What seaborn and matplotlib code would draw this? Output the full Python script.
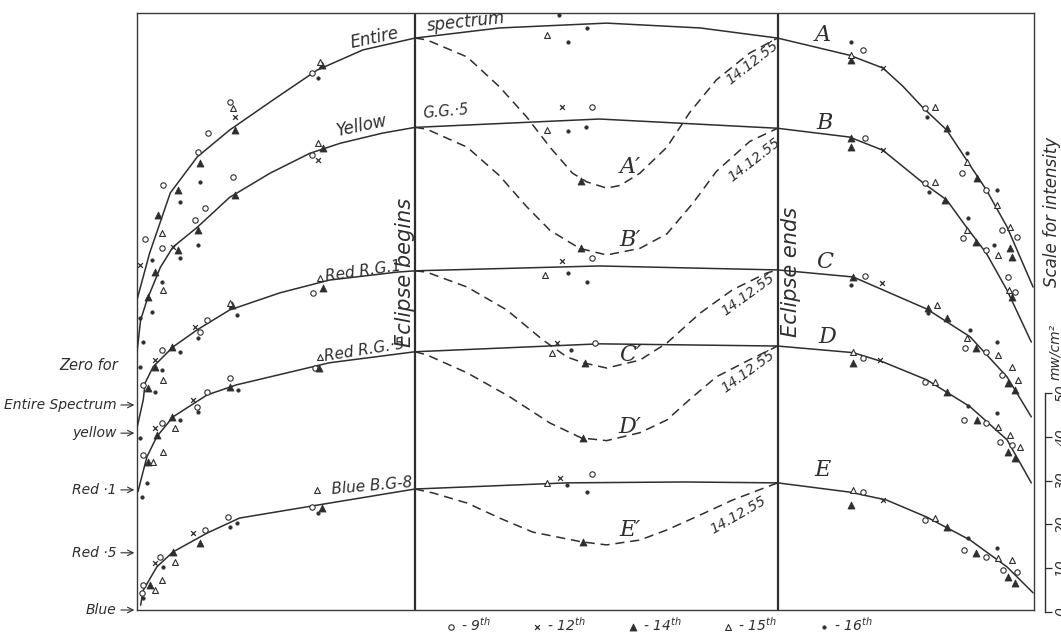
import matplotlib
matplotlib.use("Agg")
import matplotlib.pyplot as plt
import pandas as pd
import seaborn as sns

sns.set_theme(style="white")
plt.rcParams["font.family"] = ["DejaVu Sans"]
plt.rcParams["mathtext.fontset"] = "dejavusans"

INK = "#2e2e2e"

# ---------------- data (time in hours, intensity in mw/cm^2) ----------------
curve_names = ["A", "B", "C", "D", "E"]
zero_offset = {"A": 46.6, "B": 40.2, "C": 27.3, "D": 13.0, "E": 0.0}
eclipse_begin = 10.09
eclipse_end = 14.12

# normal-day curves
A_t = [7.00, 7.14, 7.37, 7.67, 8.03, 8.51, 9.00, 9.51, 10.09, 11.03, 12.22, 13.26, 14.12,
       14.92, 15.29, 15.51, 15.73, 16.00, 16.22, 16.44, 16.67, 16.96]
A_v = [23.9, 34.5, 48.2, 56.4, 62.5, 69.3, 76.1, 80.7, 83.4, 85.7, 86.8, 85.7, 83.4,
       79.5, 76.6, 72.5, 67.7, 62.5, 55.7, 48.9, 40.5, 26.8]
B_t = [7.00, 7.04, 7.11, 7.26, 7.40, 7.67, 8.03, 8.48, 8.92, 9.26, 9.73, 10.09, 12.14, 14.12,
       14.92, 15.29, 15.73, 16.00, 16.22, 16.44, 16.67, 16.94]
B_v = [18.4, 25.7, 30.2, 37.7, 42.3, 46.8, 53.6, 59.1, 63.6, 65.9, 68.2, 69.5, 71.4, 69.3,
       67.3, 64.3, 57.0, 53.0, 46.8, 40.9, 32.5, 20.7]
C_t = [7.00, 7.07, 7.09, 7.18, 7.40, 7.67, 8.03, 8.59, 9.14, 9.89, 10.09, 12.14, 14.12,
       14.96, 15.78, 16.26, 16.67, 16.94]
C_v = [14.1, 20.5, 24.3, 28.0, 32.5, 36.4, 40.9, 44.8, 47.7, 49.5, 49.8, 50.9, 50.0,
       48.4, 41.1, 34.8, 25.7, 16.6]
D_t = [7.01, 7.11, 7.22, 7.40, 7.78, 8.11, 9.14, 10.09, 12.14, 14.12, 14.96, 15.29, 15.78,
       16.26, 16.67, 16.94]
D_v = [13.9, 21.8, 26.4, 30.9, 35.9, 38.2, 43.2, 45.7, 47.5, 47.0, 45.5, 43.4, 39.3,
       33.2, 25.7, 15.9]
E_t = [7.04, 7.07, 7.22, 7.40, 7.78, 8.14, 9.14, 10.09, 11.78, 13.07, 14.12, 14.92, 15.33,
       15.78, 16.26, 16.67, 16.96]
E_v = [1.1, 4.5, 9.8, 13.2, 17.5, 20.9, 24.3, 27.5, 28.9, 29.1, 28.9, 26.8, 25.0,
       21.1, 15.9, 9.8, 3.9]

# eclipse-day curves (14.12.55)
A2_t = [10.09, 10.22, 10.67, 11.03, 11.33, 11.59, 11.84, 12.00, 12.22, 12.37, 12.59, 12.89,
        13.14, 13.44, 13.81, 14.12]
A2_v = [83.4, 83.0, 79.1, 72.3, 65.5, 58.6, 52.7, 50.7, 49.3, 49.9, 52.7, 58.6,
        66.4, 73.9, 80.0, 83.4]
B2_t = [10.09, 10.22, 10.67, 11.03, 11.33, 11.59, 11.92, 12.22, 12.59, 12.89, 13.18, 13.44,
        13.81, 14.12]
B2_v = [69.5, 69.1, 65.0, 58.5, 51.5, 46.1, 42.0, 40.5, 42.0, 45.3, 52.3, 59.5, 66.3, 69.3]
C2_t = [10.09, 10.22, 10.67, 11.11, 11.51, 11.78, 11.96, 12.22, 12.59, 12.89, 13.26, 13.62,
        14.00, 14.12]
C2_v = [49.8, 49.5, 46.1, 40.9, 34.1, 30.2, 28.9, 27.7, 29.5, 33.4, 40.2, 45.5, 49.3, 50.0]
D2_t = [10.09, 10.22, 10.67, 11.14, 11.59, 11.94, 12.22, 12.59, 12.89, 13.14, 13.44, 13.81, 14.12]
D2_v = [45.7, 45.0, 40.9, 35.5, 29.5, 26.1, 25.5, 27.3, 30.2, 34.8, 40.0, 43.9, 47.0]
E2_t = [10.09, 10.29, 10.67, 11.03, 11.40, 11.94, 12.22, 12.59, 12.89, 13.26, 13.62, 14.12]
E2_v = [27.5, 26.6, 24.3, 20.9, 17.7, 15.5, 14.8, 15.9, 18.2, 21.6, 25.0, 28.9]

# observations: (time, intensity, day of December)
pts_A = [
    (9.03, 78.0, 15), (9.06, 77.3, 14), (8.94, 75.5, 9), (9.01, 74.3, 16),
    (8.03, 68.9, 9), (8.07, 67.5, 15), (8.09, 65.5, 12), (8.09, 62.5, 14),
    (7.79, 61.8, 9), (7.68, 57.5, 9), (7.70, 55.0, 14), (7.70, 50.7, 16),
    (7.29, 50.0, 9), (7.46, 48.9, 14), (7.48, 46.1, 16), (7.23, 43.2, 14),
    (7.28, 39.1, 15), (7.09, 37.7, 9), (7.28, 35.7, 9), (7.17, 33.0, 16), (7.03, 31.8, 12),
    (11.69, 88.6, 16), (11.56, 84.1, 15), (11.79, 82.5, 16), (12.00, 85.7, 16),
    (11.94, 50.9, 14),
    (14.94, 82.5, 16), (15.07, 80.7, 9), (14.94, 79.5, 15), (14.94, 78.4, 14), (15.29, 76.6, 12),
    (15.76, 67.5, 9), (15.87, 67.7, 15), (15.78, 65.5, 16), (16.00, 63.0, 14),
    (16.22, 57.3, 16), (16.22, 55.2, 15), (16.17, 52.7, 9), (16.34, 51.6, 14),
    (16.44, 48.9, 9), (16.56, 48.9, 16), (16.56, 45.5, 15),
    (16.61, 39.8, 9), (16.70, 40.5, 15), (16.78, 38.2, 9), (16.70, 35.7, 14), (16.73, 33.6, 14),
]
pts_B = [
    (9.01, 65.9, 15), (9.07, 64.8, 14), (8.94, 63.2, 9), (9.01, 62.0, 12),
    (8.07, 58.2, 9), (8.09, 54.1, 14), (7.76, 51.1, 9), (7.64, 48.4, 9),
    (7.68, 46.1, 14), (7.68, 42.7, 16), (7.40, 42.3, 12), (7.46, 41.6, 14),
    (7.48, 39.8, 16), (7.20, 36.6, 14), (7.28, 34.3, 16), (7.29, 32.5, 15),
    (7.12, 30.9, 14), (7.17, 27.5, 16), (7.03, 26.1, 16), (7.07, 20.7, 16), (7.03, 15.0, 16),
    (11.72, 74.1, 12), (12.06, 74.1, 9), (11.56, 68.9, 15), (11.79, 68.6, 16), (11.99, 69.5, 16),
    (11.94, 42.0, 14),
    (14.94, 67.0, 14), (14.94, 65.0, 14), (15.09, 67.0, 9), (15.29, 64.3, 12),
    (15.76, 56.8, 9), (15.87, 57.0, 15), (15.80, 54.8, 16), (15.98, 53.0, 14),
    (16.24, 48.9, 16), (16.23, 46.1, 15), (16.18, 44.3, 9), (16.33, 43.4, 14),
    (16.44, 41.6, 9), (16.53, 42.7, 16), (16.57, 40.5, 15),
    (16.68, 35.5, 9), (16.69, 32.5, 15), (16.73, 30.9, 14), (16.76, 32.0, 9),
]
pts_C = [
    (9.03, 48.2, 15), (8.96, 44.8, 9), (9.07, 45.9, 14),
    (8.03, 42.5, 15), (8.06, 42.0, 14), (8.11, 39.8, 16),
    (7.78, 38.6, 9), (7.64, 37.0, 12), (7.70, 35.9, 9), (7.68, 34.5, 16),
    (7.39, 32.5, 14), (7.28, 31.8, 9), (7.48, 31.4, 16), (7.20, 29.5, 12),
    (7.20, 28.0, 14), (7.28, 27.3, 16), (7.29, 25.0, 15), (7.07, 23.9, 9),
    (7.12, 23.2, 14), (7.20, 22.3, 16), (7.03, 11.8, 16),
    (11.72, 52.0, 12), (12.06, 52.7, 9), (11.53, 48.9, 15), (11.79, 49.3, 16), (12.00, 47.3, 16),
    (11.98, 28.9, 14),
    (14.96, 48.4, 14), (15.09, 48.6, 9), (15.28, 47.0, 12), (14.94, 46.6, 16),
    (15.89, 42.0, 15), (15.79, 41.4, 14), (15.79, 40.2, 16), (16.00, 39.1, 14),
    (16.26, 36.4, 16), (16.23, 34.5, 15), (16.20, 32.3, 9), (16.33, 32.3, 14),
    (16.44, 31.4, 9), (16.56, 33.6, 16), (16.57, 30.7, 15),
    (16.72, 28.0, 15), (16.61, 26.1, 9), (16.68, 24.3, 14), (16.79, 25.0, 15), (16.76, 22.7, 14),
]
pts_D = [
    (9.03, 44.5, 15), (8.98, 42.0, 9), (9.02, 42.0, 14),
    (8.03, 39.8, 9), (8.03, 37.7, 14), (8.12, 37.0, 16),
    (7.78, 36.6, 9), (7.62, 34.8, 12), (7.67, 33.2, 9), (7.68, 32.0, 16),
    (7.39, 30.9, 14), (7.28, 29.5, 9), (7.48, 30.2, 16), (7.42, 28.4, 15),
    (7.20, 28.4, 12), (7.22, 26.8, 14), (7.29, 22.9, 15), (7.07, 22.3, 9),
    (7.12, 20.7, 14), (7.18, 20.7, 15), (7.11, 15.9, 16), (7.06, 12.7, 16),
    (11.61, 45.5, 15), (11.67, 47.7, 12), (11.82, 46.1, 16), (12.09, 47.7, 9),
    (11.96, 26.1, 14),
    (14.96, 45.7, 15), (14.96, 43.2, 14), (15.07, 44.3, 9), (15.26, 43.9, 12),
    (15.76, 38.9, 9), (15.87, 38.9, 15), (16.00, 36.6, 14),
    (16.24, 33.4, 16), (16.56, 31.8, 16), (16.19, 30.2, 9), (16.34, 30.2, 14),
    (16.44, 29.5, 9), (16.57, 28.6, 15), (16.70, 26.8, 15), (16.59, 25.2, 9),
    (16.73, 24.5, 9), (16.68, 22.9, 14), (16.81, 24.1, 15), (16.76, 21.6, 14),
]
pts_E = [
    (9.00, 27.3, 15), (8.94, 23.4, 9), (9.06, 23.2, 14), (9.01, 22.0, 16),
    (8.01, 21.1, 9), (8.03, 18.9, 16), (8.11, 19.8, 16), (7.76, 18.2, 9),
    (7.62, 17.5, 12), (7.70, 15.2, 14), (7.26, 12.0, 9), (7.40, 13.2, 14),
    (7.42, 10.9, 15), (7.20, 10.7, 12), (7.29, 9.8, 16), (7.28, 6.8, 15),
    (7.07, 5.7, 9), (7.14, 5.7, 14), (7.20, 4.5, 15), (7.07, 2.7, 16), (7.06, 3.9, 9),
    (11.56, 28.9, 15), (11.70, 30.0, 12), (11.78, 28.4, 16), (12.06, 30.9, 9), (12.00, 26.8, 16),
    (11.96, 15.5, 14),
    (14.96, 27.3, 15), (15.07, 26.8, 9), (14.94, 23.9, 14), (15.29, 25.0, 12),
    (15.76, 20.5, 9), (15.87, 20.9, 15), (16.00, 18.9, 14),
    (16.24, 16.4, 16), (16.19, 13.6, 9), (16.33, 13.0, 14), (16.44, 12.0, 9),
    (16.56, 14.1, 16), (16.57, 11.8, 15), (16.72, 11.4, 15), (16.62, 9.1, 9),
    (16.78, 8.6, 9), (16.68, 7.5, 14), (16.76, 6.1, 14),
]

days = [9, 12, 14, 15, 16]
day_labels = [r"- 9$^{th}$", r"- 12$^{th}$", r"- 14$^{th}$", r"- 15$^{th}$", r"- 16$^{th}$"]
left_labels = ["Entire Spectrum", "yellow", "Red ·1", "Red ·5", "Blue"]

# ---------------- build tables ----------------
normal = {"A": (A_t, A_v), "B": (B_t, B_v), "C": (C_t, C_v), "D": (D_t, D_v), "E": (E_t, E_v)}
eclipse = {"A": (A2_t, A2_v), "B": (B2_t, B2_v), "C": (C2_t, C2_v), "D": (D2_t, D2_v),
           "E": (E2_t, E2_v)}
obs = {"A": pts_A, "B": pts_B, "C": pts_C, "D": pts_D, "E": pts_E}

rows = []
for c in curve_names:
    for t, v, d in obs[c]:
        rows.append({"curve": c, "time": t, "y": v + zero_offset[c], "day": d})
obs_df = pd.DataFrame(rows)

# ---------------- figure ----------------
W, H = 1061, 634
fig = plt.figure(figsize=(W / 100, H / 100), dpi=100)
fig.patch.set_facecolor("white")
L, R, T, B = 137, 1034, 13, 610
ax = fig.add_axes([L / W, 1 - B / H, (R - L) / W, (B - T) / H])
ax.set_xlim(7.0, 16.97)
ax.set_ylim(0, 135.7)
ax.set_xticks([])
ax.set_yticks([])
for s in ax.spines.values():
    s.set_color("#3a3a3a")
    s.set_linewidth(1.0)

ax.axvline(eclipse_begin, color=INK, lw=1.6, zorder=2)
ax.axvline(eclipse_end, color=INK, lw=1.6, zorder=2)

for c in curve_names:
    t, v = normal[c]
    sns.lineplot(x=t, y=[vv + zero_offset[c] for vv in v], ax=ax, color=INK, lw=1.1,
                 sort=False, estimator=None, zorder=3)
    t2, v2 = eclipse[c]
    sns.lineplot(x=t2, y=[vv + zero_offset[c] for vv in v2], ax=ax, color=INK, lw=1.1,
                 linestyle=(0, (6, 3.8)), sort=False, estimator=None, zorder=3)

marker_style = {
    9: dict(marker="o", s=15, facecolor="white", edgecolor=INK, linewidth=0.8),
    12: dict(marker="x", s=12, color=INK, linewidth=0.9),
    14: dict(marker="^", s=26, color=INK, edgecolor=INK, linewidth=0.5),
    15: dict(marker="^", s=18, facecolor="white", edgecolor=INK, linewidth=0.8),
    16: dict(marker="o", s=7, color=INK, edgecolor=INK, linewidth=0.3),
}
for d, lab in zip(days, day_labels):
    sub = obs_df[obs_df["day"] == d]
    kw = dict(marker_style[d])
    if "color" not in kw:
        kw["color"] = INK
    sns.scatterplot(data=sub, x="time", y="y", ax=ax, label=lab, zorder=4, **kw)

handles, labels = ax.get_legend_handles_labels()
if ax.get_legend() is not None:
    ax.get_legend().remove()
ax.set_xlabel("")
ax.set_ylabel("")
fig.legend(handles, labels, loc="center", bbox_to_anchor=(658 / W, 1 - 625 / H), ncol=5,
           frameon=False, handletextpad=0.2, columnspacing=2.9, borderaxespad=0,
           prop={"size": 10, "style": "italic"}, labelcolor=INK, handlelength=1.0)

# curve labels
txt = dict(color=INK, style="italic", rotation_mode="anchor", ha="center", va="center")
ax.text(9.64, 130.0, "Entire", fontsize=12, rotation=12, **txt)
ax.text(10.66, 133.6, "spectrum", fontsize=12, rotation=6, **txt)
ax.text(9.50, 110.0, "Yellow", fontsize=12, rotation=12, **txt)
ax.text(10.43, 113.2, "G.G.·5", fontsize=10.5, rotation=5, **txt)
ax.text(9.51, 77.0, "Red R.G.1", fontsize=11, rotation=8, **txt)
ax.text(9.53, 59.1, "Red R.G.·5", fontsize=11, rotation=9, **txt)
ax.text(9.61, 28.2, "Blue B.G-8", fontsize=11, rotation=5, **txt)
ax.text(9.98, 76.8, "Eclipse begins", fontsize=15, rotation=90, **txt)
ax.text(14.27, 76.8, "Eclipse ends", fontsize=15, rotation=90, **txt)

serif = dict(color=INK, style="italic", family="DejaVu Serif", ha="center", va="center",
             fontsize=16)
for c, (x, y) in zip(curve_names, [(14.62, 130.7), (14.64, 110.7), (14.64, 79.1),
                                     (14.67, 62.0), (14.62, 31.8)]):
    ax.text(x, y, c, **serif)
for c, y in zip(curve_names, [100.7, 84.1, 58.0, 41.6, 18.2]):
    ax.text(12.48, y, c + "′", **serif)
for (x, y, r) in [(13.84, 124.3, 38), (13.86, 102.3, 38), (13.79, 71.6, 36),
                  (13.79, 54.1, 36), (13.68, 21.6, 30)]:
    ax.text(x, y, "14.12.55", fontsize=10, rotation=r, **txt)

# zero markers on the left
fig.text(118 / W, 1 - 365 / H, "Zero for", ha="right", va="center", fontsize=10.5,
         style="italic", color=INK)
for c, lab in zip(curve_names, left_labels):
    ax.annotate(lab, xy=(-0.003, zero_offset[c]), xycoords=ax.get_yaxis_transform(),
                xytext=(-13, 0), textcoords="offset points", ha="right", va="center",
                fontsize=10, style="italic", color=INK, annotation_clip=False,
                arrowprops=dict(arrowstyle="->", lw=0.8, color=INK, shrinkA=1, shrinkB=0))

# intensity scale on the right
S0, S50 = 612, 393
ax2 = fig.add_axes([1040 / W, 1 - S0 / H, 5 / W, (S0 - S50) / H])
ax2.set_ylim(0, 50)
ax2.set_xticks([])
ax2.set_yticks([0, 10, 20, 30, 40, 50])
ax2.yaxis.tick_right()
for k, s in ax2.spines.items():
    s.set_visible(k == "right")
ax2.spines["right"].set_color(INK)
ax2.spines["right"].set_linewidth(1.0)
ax2.patch.set_alpha(0)
ax2.tick_params(axis="y", direction="out", length=5, width=0.9, color=INK, labelsize=10,
                labelcolor=INK, pad=2, labelrotation=90, right=True, left=False)
for lab in ax2.get_yticklabels():
    lab.set_style("italic")
    lab.set_va("center")
fig.text(1055 / W, 1 - 352 / H, "mw/cm²", rotation=90, ha="center", va="center",
         fontsize=10, style="italic", color=INK)
fig.text(1052 / W, 1 - 212 / H, "Scale for intensity", rotation=90, ha="center",
         va="center", fontsize=12, style="italic", color=INK)

fig.savefig("out.png", dpi=100, facecolor="white")
